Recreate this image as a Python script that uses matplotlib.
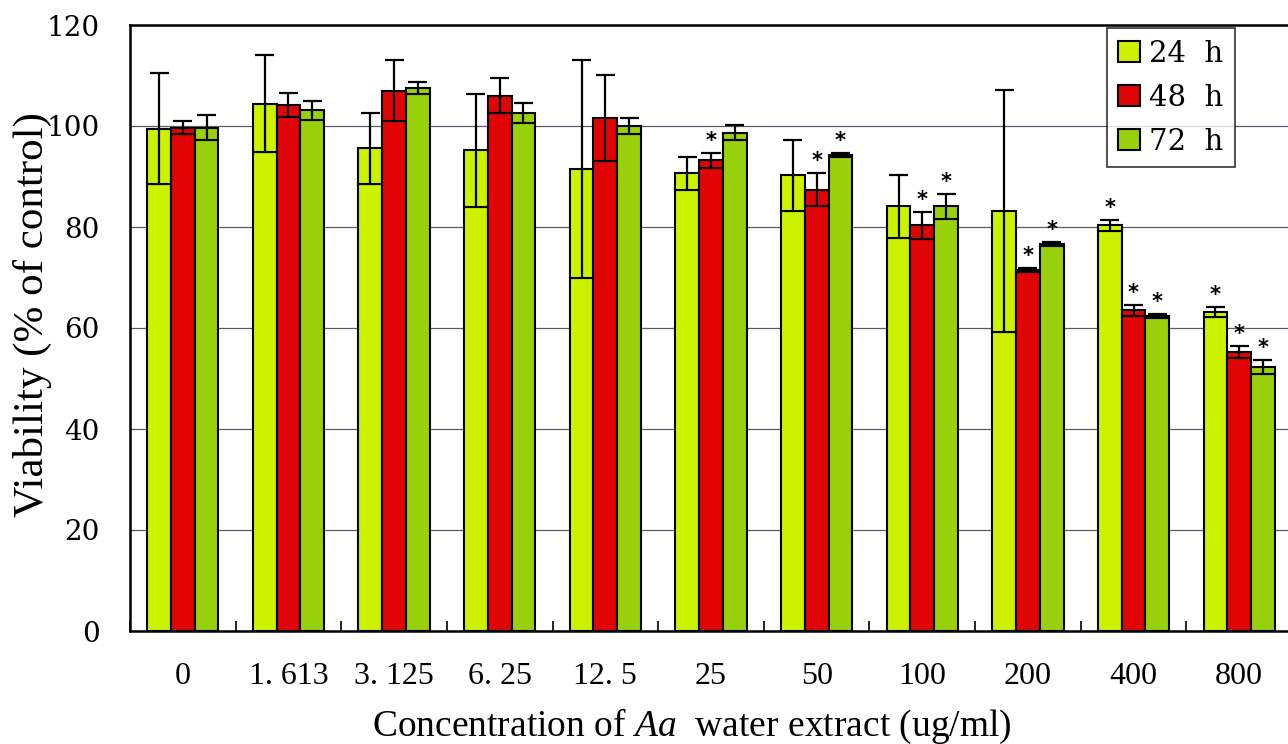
import matplotlib
matplotlib.use("Agg")
import matplotlib.pyplot as plt
from matplotlib.patches import Patch
from matplotlib.ticker import FixedLocator
import numpy as np

plt.rcParams['mathtext.fontset'] = 'custom'
plt.rcParams['mathtext.it'] = 'Liberation Serif:italic'
plt.rcParams['mathtext.rm'] = 'Liberation Serif'

# Concentrations of the extract (ug/ml)
categories = ['0', '1. 613', '3. 125', '6. 25', '12. 5', '25', '50', '100', '200', '400', '800']

# Viability (% of control), mean and SD for each exposure time
v24 = [99.5, 104.4, 95.6, 95.2, 91.5, 90.6, 90.2, 84.1, 83.2, 80.3, 63.2]
sd24 = [11.0, 9.6, 7.0, 11.2, 21.6, 3.3, 7.0, 6.2, 24.0, 1.0, 1.0]
v48 = [99.7, 104.2, 107.0, 106.0, 101.6, 93.2, 87.4, 80.3, 71.5, 63.5, 55.2]
sd48 = [1.3, 2.4, 6.1, 3.5, 8.5, 1.5, 3.2, 2.7, 0.4, 1.1, 1.2]
v72 = [99.7, 103.1, 107.6, 102.6, 100.0, 98.7, 94.2, 84.1, 76.6, 62.3, 52.3]
sd72 = [2.5, 1.9, 1.2, 2.0, 1.5, 1.4, 0.4, 2.5, 0.4, 0.4, 1.4]

# Significance marks (*) per series
star24 = [0, 0, 0, 0, 0, 0, 0, 0, 0, 1, 1]
star48 = [0, 0, 0, 0, 0, 1, 1, 1, 1, 1, 1]
star72 = [0, 0, 0, 0, 0, 0, 1, 1, 1, 1, 1]

series_labels = ['24  h', '48  h', '72  h']
colors = ['#CCF200', '#E00404', '#98D00C']

serif_tick = 'DejaVu Serif'
serif_text = 'Liberation Serif'

fig = plt.figure(figsize=(12.88, 7.44), dpi=100)
fig.patch.set_facecolor('white')
ax = fig.add_axes([130 / 1288, 1 - 631 / 744, 1162 / 1288, 606 / 744])

x = np.arange(len(categories))
width = 0.225
offsets = [-width, 0.0, width]

series = [(v24, sd24, star24), (v48, sd48, star48), (v72, sd72, star72)]

for (vals, sds, stars), off, col in zip(series, offsets, colors):
    vals = np.array(vals)
    sds = np.array(sds)
    xs = x + off
    lower = vals - sds
    # bar split at mean - SD, so the lower end of the error range shows as a line
    ax.bar(xs, lower, width=width, color=col, edgecolor='black', linewidth=1.5, zorder=3)
    ax.bar(xs, sds, bottom=lower, width=width, color=col, edgecolor='black',
           linewidth=1.5, zorder=3)
    # error bar: stem from mean - SD to mean + SD, cap on top
    ax.vlines(xs, lower, vals + sds, colors='black', linewidth=1.6, zorder=4)
    ax.hlines(vals + sds, xs - width * 0.4, xs + width * 0.4, colors='black',
              linewidth=1.6, zorder=4)
    for xi, top, s in zip(xs, vals + sds, stars):
        if s:
            ax.text(xi, top + 2.4, '*', ha='center', va='center', fontsize=15,
                    fontweight='bold', family='DejaVu Sans', zorder=5)

ax.set_xlim(-0.5, len(categories) - 0.5)
ax.set_ylim(0, 120)

ax.set_yticks([0, 20, 40, 60, 80, 100, 120])
ax.set_yticklabels(['0', '20', '40', '60', '80', '100', '120'], family=serif_tick, fontsize=20)
ax.tick_params(axis='y', length=0, pad=22)

ax.set_xticks(x)
ax.set_xticklabels(categories, family=serif_text, fontsize=23)
ax.tick_params(axis='x', which='major', length=0, pad=22)
ax.xaxis.set_minor_locator(FixedLocator(np.arange(-0.5, len(categories), 1.0)))
ax.tick_params(axis='x', which='minor', direction='in', length=7, width=1.2, color='black')

ax.yaxis.grid(True, color='#5a5a6e', linewidth=0.9, zorder=0)
ax.set_axisbelow(True)

for side in ['left', 'top', 'bottom']:
    ax.spines[side].set_linewidth(1.8)
    ax.spines[side].set_color('black')
ax.spines['right'].set_visible(False)

fig.text(32 / 1288, 1 - 315 / 744, 'Viability (% of control)', rotation=90,
         ha='center', va='center', family=serif_text, fontsize=31)
fig.text(692 / 1288, 1 - 726 / 744,
         r'Concentration of $\mathit{Aa}$  water extract (ug/ml)',
         ha='center', va='center', family=serif_text, fontsize=27)

handles = [Patch(facecolor=c, edgecolor='black', linewidth=1.5) for c in colors]
leg = fig.legend(handles, series_labels, loc='upper right',
                 bbox_to_anchor=(1235 / 1288, 1 - 28 / 744), bbox_transform=fig.transFigure,
                 prop={'family': serif_tick, 'size': 21}, frameon=True, fancybox=False,
                 handlelength=0.75, handleheight=0.75, handletextpad=0.3,
                 labelspacing=0.55, borderpad=0.4, borderaxespad=0)
leg.get_frame().set_edgecolor('black')
leg.get_frame().set_linewidth(1.2)

fig.savefig('out.png', dpi=100, facecolor='white')
